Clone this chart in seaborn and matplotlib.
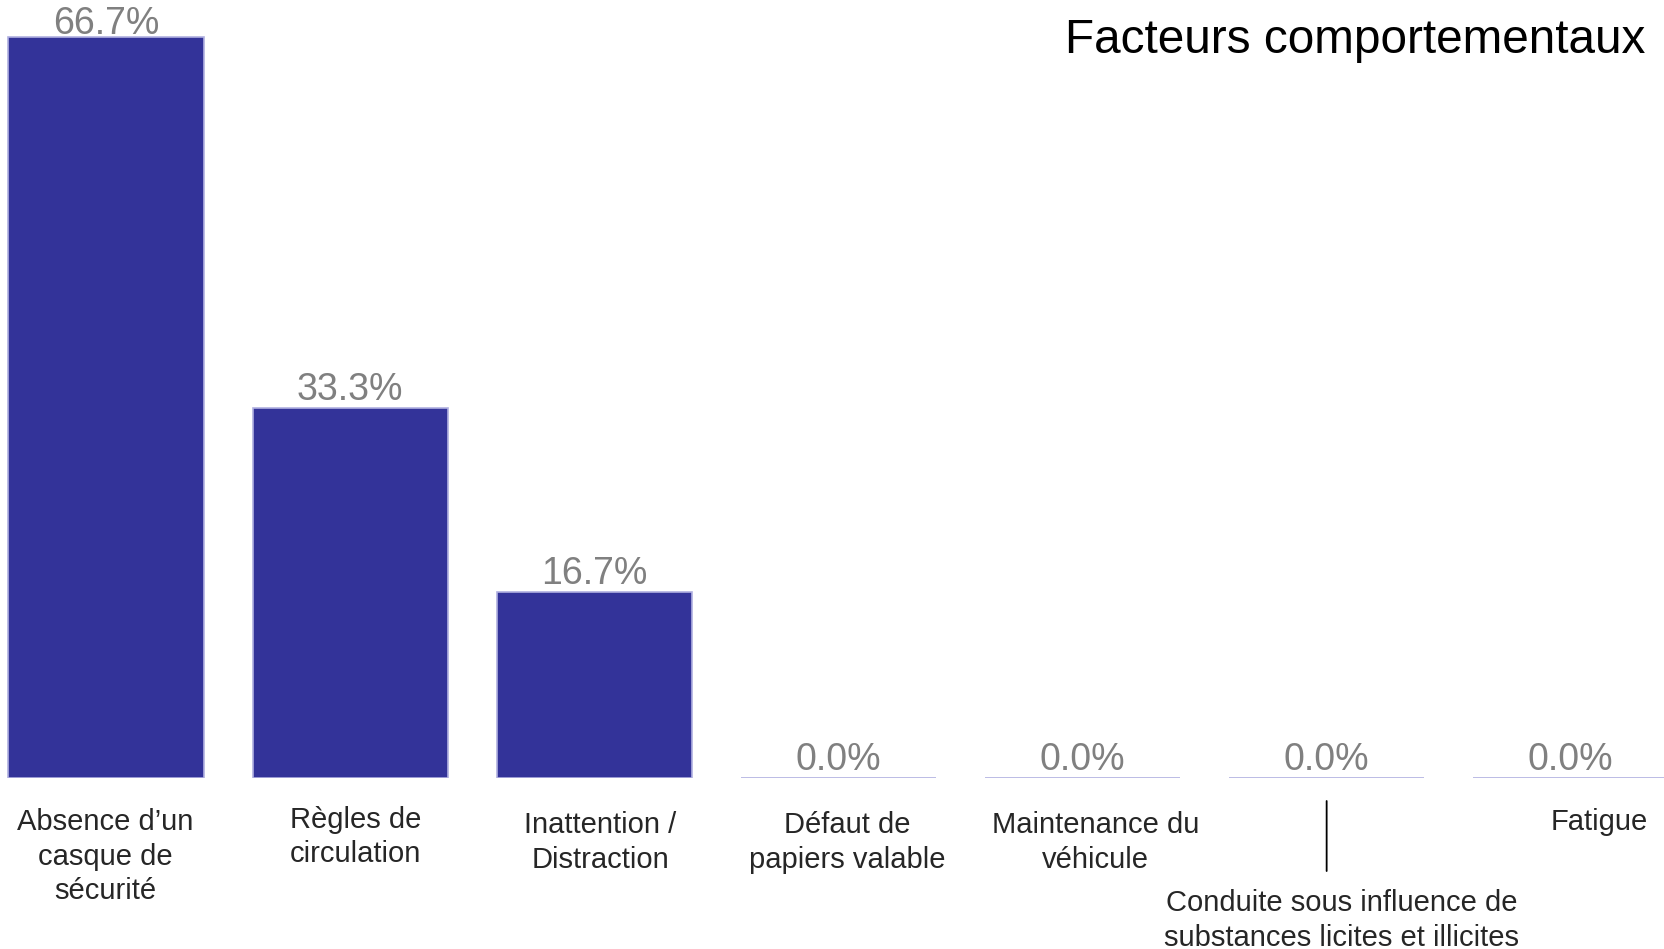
import matplotlib
matplotlib.use("Agg")
import matplotlib.pyplot as plt
import seaborn as sns

categories = ["Absence d’un casque de sécurité", "Règles de circulation",
              "Inattention / Distraction", "Défaut de papiers valable",
              "Maintenance du véhicule",
              "Conduite sous influence de substances licites et illicites",
              "Fatigue"]
labels = ["Absence d’un\ncasque de\nsécurité", "Règles de\ncirculation",
          "Inattention /\nDistraction", "Défaut de\npapiers valable",
          "Maintenance du\nvéhicule",
          "Conduite sous influence de\nsubstances licites et illicites",
          "Fatigue"]
values = [66.7, 33.3, 16.7, 0.0, 0.0, 0.0, 0.0]

# position des libellés sous l'axe (décalage x, y en unités de données)
label_dx = [-0.002, 0.022, 0.024, 0.035, 0.054, 0.061, 0.115]
label_y = [-2.7, -2.5, -2.99, -2.99, -2.99, -10.0, -2.7]

sns.set_style("white")
plt.rcParams["font.family"] = ["Liberation Sans", "DejaVu Sans"]

fig = plt.figure(figsize=(16.64, 9.49), dpi=100)
ax = fig.add_axes([0, 171 / 949, 1, 778 / 949])

sns.barplot(x=categories, y=values, color="#333399", saturation=1, width=0.8,
            edgecolor="#b0b0e0", linewidth=1.2, ax=ax)

txts = ax.bar_label(ax.containers[0], labels=[f"{v:.1f}%" for v in values],
                    padding=0, fontsize=27, color="#808080")
# le premier libellé est tassé vers le bas pour rester dans le cadre
txts[0].xyann = (0, -4)

ax.set_ylim(0, 70)
ax.set_xlim(-0.4347, 6.382)
sns.despine(left=True, bottom=True)
ax.set_yticks([])
ax.set_xticks([])
ax.set_xlabel("")
ax.set_ylabel("")

for i, lab in enumerate(labels):
    ax.text(i + label_dx[i], label_y[i], lab, ha="center", va="top",
            fontsize=21, linespacing=1.3, clip_on=False)

# trait de rappel vers le libellé décalé
ax.annotate("", xy=(5, -2.07), xytext=(5, -8.37),
            arrowprops=dict(arrowstyle="-", color="black", lw=1.3,
                            shrinkA=0, shrinkB=0),
            annotation_clip=False)

fig.text(0.9886, 1 - 53 / 949, "Facteurs comportementaux", ha="right",
         va="baseline", fontsize=34.4, color="black")

fig.savefig("out.png", dpi=100)
